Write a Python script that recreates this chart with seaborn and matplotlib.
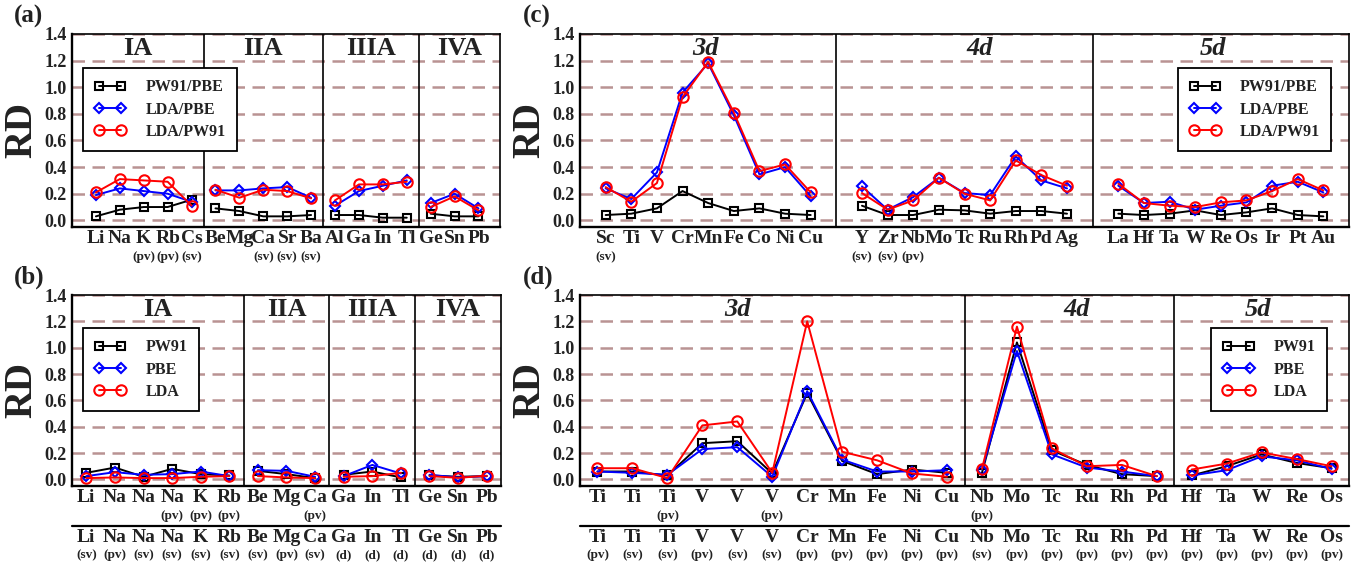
import pandas as pd
import seaborn as sns
import matplotlib.pyplot as plt
from matplotlib.lines import Line2D

# ---------------- data ----------------
# panel (a): ratios between functionals, main-group elements
a_titles = ['IA', 'IIA', 'IIIA', 'IVA']
a_elems = [['Li', 'Na', 'K', 'Rb', 'Cs'], ['Be', 'Mg', 'Ca', 'Sr', 'Ba'],
           ['Al', 'Ga', 'In', 'Tl'], ['Ge', 'Sn', 'Pb']]
a_subs = [['', '', '(pv)', '(pv)', '(sv)'], ['', '', '(sv)', '(sv)', '(sv)'],
          ['', '', '', ''], ['', '', '']]
a_pw91_pbe = [0.03, 0.08, 0.10, 0.10, 0.155, 0.09, 0.07, 0.03, 0.03, 0.04,
              0.04, 0.04, 0.02, 0.02, 0.05, 0.03, 0.03]
a_lda_pbe = [0.19, 0.24, 0.22, 0.20, 0.14, 0.225, 0.225, 0.24, 0.25, 0.17,
             0.11, 0.22, 0.26, 0.30, 0.13, 0.20, 0.09]
a_lda_pw91 = [0.21, 0.31, 0.30, 0.29, 0.11, 0.23, 0.17, 0.23, 0.22, 0.165,
              0.15, 0.27, 0.27, 0.29, 0.10, 0.18, 0.075]

# panel (b): main-group elements, single functionals
b_titles = ['IA', 'IIA', 'IIIA', 'IVA']
b_elems = [['Li', 'Na', 'Na', 'Na', 'K', 'Rb'], ['Be', 'Mg', 'Ca'],
           ['Ga', 'In', 'Tl'], ['Ge', 'Sn', 'Pb']]
b_subs = [['', '', '', '(pv)', '(pv)', '(pv)'], ['', '', '(pv)'],
          ['', '', ''], ['', '', '']]
b_ref_elems = ['Li', 'Na', 'Na', 'Na', 'K', 'Rb', 'Be', 'Mg', 'Ca',
               'Ga', 'In', 'Tl', 'Ge', 'Sn', 'Pb']
b_ref_subs = ['(sv)', '(pv)', '(sv)', '(sv)', '(sv)', '(sv)', '(sv)', '(pv)', '(sv)',
              '(d)', '(d)', '(d)', '(d)', '(d)', '(d)']
b_pw91 = [0.05, 0.09, 0.02, 0.08, 0.04, 0.03, 0.065, 0.04, 0.01,
          0.035, 0.06, 0.015, 0.03, 0.02, 0.025]
b_pbe = [0.025, 0.055, 0.035, 0.04, 0.06, 0.025, 0.07, 0.065, 0.02,
         0.025, 0.11, 0.045, 0.035, 0.015, 0.025]
b_lda = [0.01, 0.015, 0.01, 0.01, 0.02, 0.025, 0.025, 0.015, 0.01,
         0.02, 0.025, 0.05, 0.025, 0.012, 0.028]

# panel (c): ratios between functionals, transition metals
c_titles = ['3d', '4d', '5d']
c_elems = [['Sc', 'Ti', 'V', 'Cr', 'Mn', 'Fe', 'Co', 'Ni', 'Cu'],
           ['Y', 'Zr', 'Nb', 'Mo', 'Tc', 'Ru', 'Rh', 'Pd', 'Ag'],
           ['La', 'Hf', 'Ta', 'W', 'Re', 'Os', 'Ir', 'Pt', 'Au']]
c_subs = [['(sv)', '', '', '', '', '', '', '', ''],
          ['(sv)', '(sv)', '(pv)', '', '', '', '', '', ''],
          ['', '', '', '', '', '', '', '', '']]
c_pw91_pbe = [0.04, 0.05, 0.09, 0.22, 0.13, 0.07, 0.09, 0.05, 0.04,
              0.11, 0.04, 0.04, 0.08, 0.075, 0.05, 0.07, 0.07, 0.05,
              0.05, 0.04, 0.05, 0.075, 0.04, 0.06, 0.09, 0.04, 0.03]
c_lda_pbe = [0.24, 0.16, 0.36, 0.96, 1.18, 0.79, 0.345, 0.40, 0.18,
             0.255, 0.08, 0.175, 0.32, 0.205, 0.19, 0.48, 0.30, 0.24,
             0.26, 0.13, 0.14, 0.08, 0.11, 0.135, 0.26, 0.29, 0.21]
c_lda_pw91 = [0.25, 0.14, 0.28, 0.925, 1.19, 0.81, 0.37, 0.42, 0.21,
              0.205, 0.08, 0.15, 0.32, 0.20, 0.15, 0.45, 0.34, 0.26,
              0.275, 0.13, 0.11, 0.10, 0.135, 0.15, 0.22, 0.31, 0.225]

# panel (d): transition metals, single functionals
d_titles = ['3d', '4d', '5d']
d_elems = [['Ti', 'Ti', 'Ti', 'V', 'V', 'V', 'Cr', 'Mn', 'Fe', 'Ni', 'Cu'],
           ['Nb', 'Mo', 'Tc', 'Ru', 'Rh', 'Pd'],
           ['Hf', 'Ta', 'W', 'Re', 'Os']]
d_subs = [['', '', '(pv)', '', '', '(pv)', '', '', '', '', ''],
          ['(pv)', '', '', '', '', ''],
          ['', '', '', '', '']]
d_ref_elems = ['Ti', 'Ti', 'Ti', 'V', 'V', 'V', 'Cr', 'Mn', 'Fe', 'Ni', 'Cu',
               'Nb', 'Mo', 'Tc', 'Ru', 'Rh', 'Pd', 'Hf', 'Ta', 'W', 'Re', 'Os']
d_ref_subs = ['(pv)', '(sv)', '(sv)', '(pv)', '(sv)', '(sv)', '(pv)', '(pv)', '(pv)', '(pv)', '(pv)',
              '(sv)', '(pv)', '(pv)', '(pv)', '(pv)', '(pv)', '(pv)', '(pv)', '(pv)', '(pv)', '(pv)']
d_pw91 = [0.06, 0.06, 0.03, 0.275, 0.29, 0.045, 0.655, 0.14, 0.04, 0.075, 0.05,
          0.05, 1.04, 0.22, 0.11, 0.04, 0.025,
          0.03, 0.10, 0.19, 0.125, 0.085]
d_pbe = [0.06, 0.05, 0.035, 0.23, 0.245, 0.02, 0.67, 0.15, 0.06, 0.06, 0.07,
         0.075, 0.975, 0.19, 0.09, 0.06, 0.025,
         0.03, 0.07, 0.175, 0.145, 0.08]
d_lda = [0.085, 0.085, 0.01, 0.41, 0.44, 0.05, 1.2, 0.21, 0.145, 0.045, 0.02,
         0.08, 1.16, 0.235, 0.10, 0.11, 0.025,
         0.075, 0.12, 0.205, 0.155, 0.10]

# ---------------- style ----------------
sns.set_style('white')
plt.rcParams['font.family'] = ['Liberation Serif', 'DejaVu Serif']
plt.rcParams['font.weight'] = 'bold'
plt.rcParams['text.color'] = '#222222'
plt.rcParams['axes.labelcolor'] = '#222222'
plt.rcParams['xtick.color'] = '#222222'
plt.rcParams['ytick.color'] = '#222222'

styles = [('black', 's', 5.5), ('blue', 'D', 5.0), ('red', 'o', 7.5)]
grid_color = '#b99393'


def positions(elems, gap):
    pos, spans, start = [], [], 0
    for g in elems:
        pos += list(range(start, start + len(g)))
        spans.append((start, start + len(g) - 1))
        start += len(g) + gap
    return pos, spans


def draw_panel(ax, titles, elems, subs, series, names, gap, xlim, title_x,
               legend_loc, legend_anchor, ref_elems=None, ref_subs=None):
    pos, spans = positions(elems, gap)
    grp = [i for i, g in enumerate(elems) for _ in g]
    for (color, marker, ms), vals in zip(styles, series):
        df = pd.DataFrame({'pos': pos, 'rd': vals, 'grp': grp})
        sns.lineplot(data=df, x='pos', y='rd', units='grp', estimator=None,
                     sort=False, color=color, marker=marker, ms=ms, mfc='none',
                     mec=color, mew=1.5, lw=1.4, ax=ax, legend=False)

    ax.set_xlim(*xlim)
    ax.set_ylim(-0.05, 1.4)
    ax.set_xlabel('')
    ax.set_ylabel('')
    yt = [0.0, 0.2, 0.4, 0.6, 0.8, 1.0, 1.2, 1.4]
    ax.set_yticks(yt)
    ax.set_yticklabels([f'{v:.1f}' for v in yt], fontsize=13, fontweight='bold')
    ax.set_xticks(pos)
    ax.set_xticklabels([e for g in elems for e in g], fontsize=14, fontweight='bold')
    ax.tick_params(axis='x', direction='in', length=5, width=3, color='k', pad=2)
    ax.tick_params(axis='y', length=0, pad=4)
    ax.yaxis.grid(True, linestyle=(0, (5, 3)), color=grid_color, lw=1.8)
    ax.xaxis.grid(False)
    ax.set_axisbelow(True)
    for side in ['left', 'bottom']:
        ax.spines[side].set_linewidth(1.7)
    for side in ['top', 'right']:
        ax.spines[side].set_linewidth(1.2)
    for sp in ax.spines.values():
        sp.set_color('k')

    # group dividers
    for (s0, e0), (s1, e1) in zip(spans[:-1], spans[1:]):
        ax.axvline((e0 + s1) / 2, color='k', lw=1.2)
    # group titles
    style = 'italic' if titles[0].endswith('d') else 'normal'
    for t, x in zip(titles, title_x):
        ax.text(x, 1.29, t, ha='center', va='center', fontsize=19,
                fontweight='bold', fontstyle=style, color='#222222')

    # suffix labels below the element names
    tr = ax.get_xaxis_transform()
    for x, s in zip(pos, [s for g in subs for s in g]):
        if s:
            ax.annotate(s, xy=(x, 0), xycoords=tr, xytext=(0, -30 * 0.72),
                        textcoords='offset points', ha='center', va='center',
                        fontsize=9.5, fontweight='bold')

    if ref_elems is not None:
        ax.add_line(Line2D([0, 1], [-0.209, -0.209], transform=ax.transAxes,
                           color='k', lw=1.6, clip_on=False))
        for x, e, s in zip(pos, ref_elems, ref_subs):
            ax.annotate(e, xy=(x, 0), xycoords=tr, xytext=(0, -52 * 0.72),
                        textcoords='offset points', ha='center', va='center',
                        fontsize=14, fontweight='bold')
            ax.annotate(s, xy=(x, 0), xycoords=tr, xytext=(0, -69 * 0.72),
                        textcoords='offset points', ha='center', va='center',
                        fontsize=9.5, fontweight='bold')

    handles = [Line2D([], [], color=c, marker=m, ms=ms, mfc='none', mec=c,
                      mew=1.5, lw=1.4) for c, m, ms in styles]
    leg = ax.legend(handles, names, loc=legend_loc, bbox_to_anchor=legend_anchor,
                    borderaxespad=0, numpoints=2, handlelength=2.0,
                    prop={'size': 11.5, 'weight': 'bold'}, fancybox=False,
                    framealpha=1, edgecolor='k', borderpad=0.7,
                    labelspacing=0.4, handletextpad=1.2)
    leg.get_frame().set_linewidth(1.3)


fig = plt.figure(figsize=(13.6, 5.65), dpi=100)
W, H = 1360, 565


def box(l, r, t, b):
    return [l / W, 1 - b / H, (r - l) / W, (b - t) / H]


ax_a = fig.add_axes(box(72, 500, 34, 227))
ax_b = fig.add_axes(box(72, 501, 295, 486))
ax_c = fig.add_axes(box(580, 1349, 34, 227))
ax_d = fig.add_axes(box(580, 1349, 295, 486))

draw_panel(ax_a, a_titles, a_elems, a_subs, [a_pw91_pbe, a_lda_pbe, a_lda_pw91],
           ['PW91/PBE', 'LDA/PBE', 'LDA/PW91'], 0, (-1, 16.9),
           [1.75, 7.0, 11.5, 15.2], 'upper left', (0.026, 0.824))
draw_panel(ax_b, b_titles, b_elems, b_subs, [b_pw91, b_pbe, b_lda],
           ['PW91', 'PBE', 'LDA'], 0, (-0.5, 14.5),
           [2.5, 7.0, 10.0, 13.0], 'upper left', (0.026, 0.827),
           b_ref_elems, b_ref_subs)
draw_panel(ax_c, c_titles, c_elems, c_subs, [c_pw91_pbe, c_lda_pbe, c_lda_pw91],
           ['PW91/PBE', 'LDA/PBE', 'LDA/PW91'], 1, (-1, 29),
           [3.9, 14.6, 23.7], 'upper right', (0.977, 0.824))
draw_panel(ax_d, d_titles, d_elems, d_subs, [d_pw91, d_pbe, d_lda],
           ['PW91', 'PBE', 'LDA'], 0, (-0.5, 21.5),
           [4.0, 13.7, 18.9], 'upper right', (0.971, 0.827),
           d_ref_elems, d_ref_subs)

for lab, x, y in [('(a)', 14, 16), ('(b)', 14, 277), ('(c)', 523, 16), ('(d)', 523, 277)]:
    fig.text(x / W, 1 - y / H, lab, ha='left', va='center', fontsize=18, fontweight='bold')
for x, y in [(22, 130), (22, 390), (530, 130), (530, 390)]:
    fig.text(x / W, 1 - y / H, 'RD', rotation=90, ha='center', va='center',
             fontsize=28, fontweight='bold')

plt.savefig('out.png', dpi=100)
